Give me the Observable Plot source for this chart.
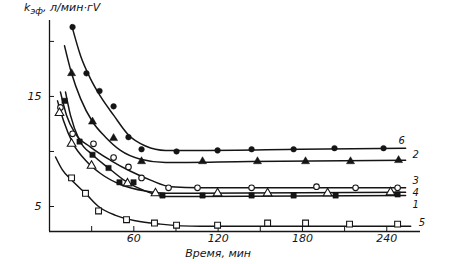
<!DOCTYPE html>
<html><head><meta charset="utf-8">
<script src="https://cdn.jsdelivr.net/npm/d3@7"></script>
<script src="https://cdn.jsdelivr.net/npm/@observablehq/plot@0.6"></script>
<style>
body{margin:0;background:#fff;}
#wrap{position:relative;width:466px;height:264px;}
#ylab{position:absolute;left:24px;top:1px;font:italic 11px "DejaVu Sans",sans-serif;color:#111;white-space:nowrap;}
#ylab sub{font-size:9px;}
</style></head><body>
<div id="wrap"><div id="ylab">k<sub>эф</sub>, л/мин·гV</div></div>
<script>
// Tick values
const xTicks = [30, 60, 90, 120, 150, 180, 210, 240];
const xLabels = [60, 120, 180, 240];
const yTicks = [5, 10, 15, 20];
const yLabels = [5, 15];
const seriesNames = ["6", "2", "3", "4", "1", "5"];

// Measured points (time, min ; k)
const t6 = [16.4, 26.3, 35.6, 45.6, 56.2, 65.5, 90.4, 119.6, 143.8, 173.7, 202.8, 237.7];
const k6 = [21.3, 17.1, 15.5, 14.1, 11.3, 10.2, 10.0, 10.1, 10.2, 10.2, 10.3, 10.3];
const t2 = [15.7, 30.6, 45.6, 65.5, 108.9, 148.0, 182.2, 214.2, 248.4];
const k2 = [17.1, 12.7, 11.2, 9.1, 9.1, 9.1, 9.1, 9.1, 9.2];
const t3 = [7.8, 16.4, 31.3, 45.6, 56.2, 65.5, 84.7, 105.3, 143.8, 190.0, 217.8, 247.7];
const k3 = [14.0, 11.6, 10.7, 9.45, 8.6, 7.6, 6.7, 6.7, 6.7, 6.8, 6.7, 6.7];
const t4 = [7.1, 15.7, 29.9, 55.5, 75.4, 119.6, 155.2, 197.9, 242.7];
const k4 = [13.5, 10.7, 8.7, 7.1, 6.2, 6.2, 6.2, 6.2, 6.3];
const t1 = [10.7, 21.4, 30.6, 42.0, 49.8, 59.8, 80.4, 108.9, 143.8, 173.7, 203.6, 247.7];
const k1 = [14.6, 10.9, 9.7, 8.5, 7.2, 7.2, 6.0, 6.0, 6.0, 6.0, 6.0, 6.1];
const t5 = [15.7, 25.6, 34.9, 54.8, 74.7, 90.4, 119.6, 155.2, 182.2, 213.5, 247.7];
const k5 = [7.6, 6.2, 4.6, 3.8, 3.5, 3.3, 3.3, 3.5, 3.5, 3.4, 3.4];

// Drawn fitted curves
const ct6 = [15.7, 22.1, 29.2, 36.3, 45.6, 56.2, 68.3, 82.6, 107.5, 178.6, 253.4];
const ck6 = [21.5, 18.7, 16.6, 15.0, 13.3, 11.5, 10.5, 10.1, 10.1, 10.2, 10.3];
const ct2 = [10.7, 15.7, 22.1, 30.6, 39.9, 50.5, 64.8, 82.6, 143, 253.4];
const ck2 = [19.6, 17.1, 14.8, 12.7, 11.3, 10.1, 9.3, 9.0, 9.1, 9.2];
const ct3 = [7.8, 12.1, 18.5, 29.2, 43.4, 57.7, 71.9, 86.1, 107.5, 253.4];
const ck3 = [15.4, 13.3, 11.6, 10.4, 9.2, 8.2, 7.4, 6.8, 6.7, 6.7];
const ct4 = [5.7, 10, 16.4, 25.6, 36.3, 50.5, 68.3, 82.6, 253.4];
const ck4 = [14.6, 12.8, 10.8, 9.2, 8.0, 7.0, 6.4, 6.2, 6.3];
const ct1 = [11.4, 14.9, 21.4, 30.6, 42, 54.1, 68.3, 82.6, 253.4];
const ck1 = [15.4, 13.3, 11.0, 9.7, 8.5, 7.3, 6.4, 5.9, 6.0];
const ct5 = [4.3, 9.3, 15.7, 26.3, 34.9, 47, 61.2, 79, 107.5, 257];
const ck5 = [9.5, 8.3, 7.4, 6.1, 5.0, 4.2, 3.7, 3.4, 3.2, 3.2];

const zip = (ts, ks) => ts.map((t, i) => ({t, k: ks[i]}));
const ink = "#151515";
const font = "DejaVu Sans, sans-serif";
const xDom = [0, 264], yDom = [2.73, 21.9];
const W = 466, H = 264, mL = 49, mR = 46, mT = 20, mB = 33;
const fw = W - mL - mR, fh = H - mT - mB;

const curves = [[ct6, ck6], [ct2, ck2], [ct3, ck3], [ct4, ck4], [ct1, ck1], [ct5, ck5]];
const labelOff = [[-7, -7], [7, -5], [7, -7], [7, 1], [7, 9], [8, -4]];

const marks = [
  Plot.ruleX([0], {stroke: ink, strokeWidth: 1.3}),
  Plot.ruleY([yDom[0]], {stroke: ink, strokeWidth: 1.3}),
  Plot.ruleX(xTicks, {x: d => d, insetTop: fh - 5, stroke: ink}),
  Plot.ruleY(yTicks, {y: d => d, insetRight: fw - 5, stroke: ink}),
  Plot.text(xLabels, {x: d => d, frameAnchor: "bottom", dy: 10, text: d => String(d), fontStyle: "italic", fontSize: 11, fill: ink, fontFamily: font}),
  Plot.text(yLabels, {y: d => d, frameAnchor: "left", dx: -8, textAnchor: "end", text: d => String(d), fontStyle: "italic", fontSize: 11, fill: ink, fontFamily: font}),
  Plot.text(["Время, мин"], {frameAnchor: "bottom", x: 120, dy: 25, text: d => d, fontStyle: "italic", fontSize: 11, fill: ink, fontFamily: font, letterSpacing: "0.5px"})
];
curves.forEach(([ts, ks], i) => {
  marks.push(Plot.line(zip(ts, ks), {x: "t", y: "k", curve: "monotone-x", stroke: ink, strokeWidth: 1.5}));
  const last = {t: ts[ts.length - 1], k: ks[ks.length - 1], s: seriesNames[i]};
  marks.push(Plot.text([last], {x: "t", y: "k", text: "s", dx: labelOff[i][0], dy: labelOff[i][1], textAnchor: "start", fontStyle: "italic", fontSize: 10, fill: ink, fontFamily: font}));
});
marks.push(
  Plot.dot(zip(t6, k6), {x: "t", y: "k", symbol: "circle", r: 2.8, fill: ink, stroke: ink, strokeWidth: 0.5}),
  Plot.dot(zip(t2, k2), {x: "t", y: "k", symbol: "triangle", r: 3, fill: ink, stroke: ink, strokeWidth: 0.5}),
  Plot.dot(zip(t3, k3), {x: "t", y: "k", symbol: "circle", r: 2.8, fill: "white", stroke: ink, strokeWidth: 1.1}),
  Plot.dot(zip(t4, k4), {x: "t", y: "k", symbol: "triangle", r: 3.2, fill: "white", stroke: ink, strokeWidth: 1.1}),
  Plot.dot(zip(t1, k1), {x: "t", y: "k", symbol: "square", r: 3, fill: ink, stroke: ink, strokeWidth: 0.5}),
  Plot.dot(zip(t5, k5), {x: "t", y: "k", symbol: "square", r: 3.3, fill: "white", stroke: ink, strokeWidth: 1.1})
);

const chart = Plot.plot({
  width: W, height: H,
  marginLeft: mL, marginRight: mR, marginTop: mT, marginBottom: mB,
  x: {domain: xDom, axis: null},
  y: {domain: yDom, axis: null},
  style: {background: "white"},
  marks
});
document.getElementById("wrap").appendChild(chart);
</script></body></html>
